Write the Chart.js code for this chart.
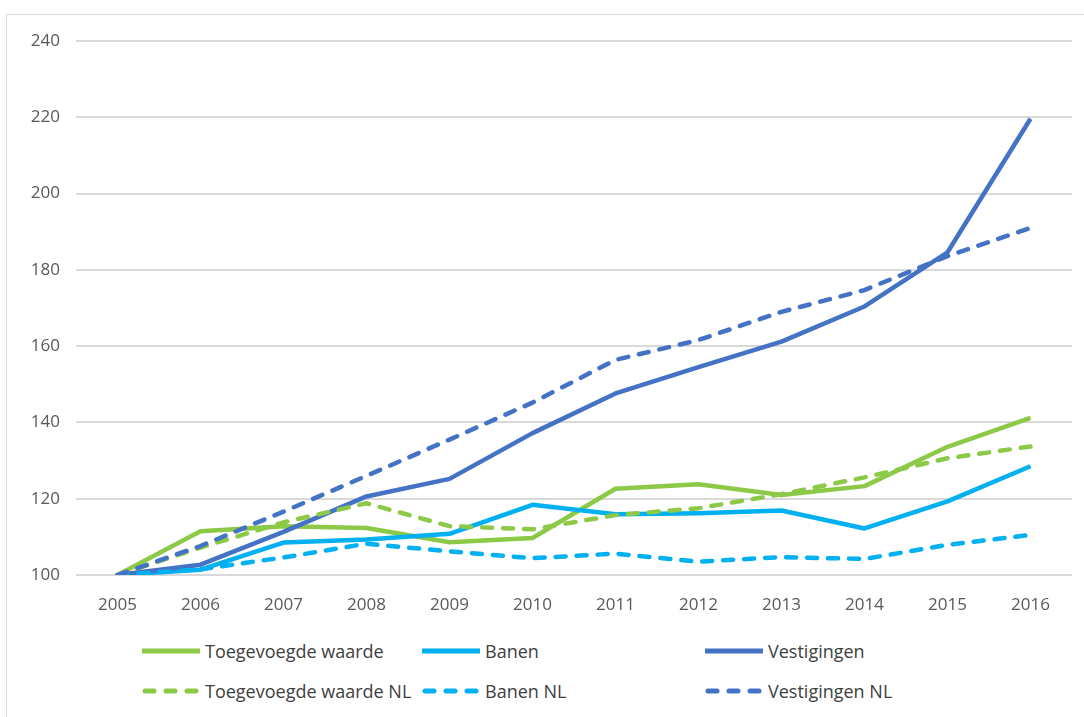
<!DOCTYPE html>
<html>
<head>
<meta charset="utf-8">
<script src="https://cdn.jsdelivr.net/npm/chart.js@4.4.1/dist/chart.umd.min.js"></script>
<style>
  body { margin: 0; background: #ffffff; font-family: "Open Sans", sans-serif; }
  #frame {
    position: absolute; left: 6px; top: 14px; width: 1100px; height: 720px;
    border: 1px solid #d9d9d9; box-sizing: border-box;
  }
  #chartBox { position: absolute; left: 0; top: 0; width: 1084px; height: 625px; }
  #legend {
    position: absolute; left: 142px; top: 636px;
    display: grid; grid-template-columns: 280px 283px 300px; row-gap: 10px;
  }
  .item { display: flex; align-items: center; height: 30px; font-size: 18px; color: #404040; }
  .item svg { margin-right: 5px; }
</style>
</head>
<body>
<div id="frame"></div>
<div id="chartBox"><canvas id="lineChart"></canvas></div>
<div id="legend"></div>
<script>
// ------ //
//  DATA  //
// ------ //

var years = ["2005", "2006", "2007", "2008", "2009", "2010", "2011", "2012", "2013", "2014", "2015", "2016"];

var toegevoegdeWaarde   = [100, 111.5, 112.8, 112.3, 108.6, 109.7, 122.6, 123.8, 121.0, 123.3, 133.6, 141.2];
var banen               = [100, 101.4, 108.5, 109.3, 110.8, 118.4, 115.9, 116.2, 116.9, 112.2, 119.3, 128.5];
var vestigingen         = [100, 102.7, 111.3, 120.6, 125.2, 137.2, 147.6, 154.5, 161.2, 170.4, 184.6, 219.6];
var toegevoegdeWaardeNL = [100, 107.2, 113.8, 118.8, 112.8, 112.0, 115.7, 117.5, 121.2, 125.6, 130.6, 133.7];
var banenNL             = [100, 101.5, 104.6, 108.2, 106.2, 104.4, 105.6, 103.5, 104.7, 104.2, 107.9, 110.5];
var vestigingenNL       = [100, 107.6, 116.6, 126.0, 135.5, 145.2, 156.4, 161.6, 169.0, 174.7, 183.6, 191.0];

var seriesNames = ["Toegevoegde waarde", "Banen", "Vestigingen",
                   "Toegevoegde waarde NL", "Banen NL", "Vestigingen NL"];

// Colours used by the three indicators
var green = "#8cc947";
var cyan = "#00b0f0";
var blue = "#4472c4";

var dashPattern = [10, 11];

// Builds one line dataset, dashed for the NL comparison series
function makeSeries(name, values, color, dashed, index)
{
  return {
    label: name,
    data: values,
    borderColor: color,
    backgroundColor: color,
    borderWidth: 4.5,
    borderDash: dashed ? dashPattern : [],
    borderCapStyle: dashed ? "round" : "butt",
    borderJoinStyle: "round",
    pointRadius: 0,
    pointHoverRadius: 0,
    tension: 0,
    fill: false,
    // later series on top, like the original
    order: 10 - index
  };
}

var datasets = [
  makeSeries(seriesNames[0], toegevoegdeWaarde, green, false, 0),
  makeSeries(seriesNames[1], banen, cyan, false, 1),
  makeSeries(seriesNames[2], vestigingen, blue, false, 2),
  makeSeries(seriesNames[3], toegevoegdeWaardeNL, green, true, 3),
  makeSeries(seriesNames[4], banenNL, cyan, true, 4),
  makeSeries(seriesNames[5], vestigingenNL, blue, true, 5)
];

var tickFont = { family: "'Open Sans', sans-serif", size: 17 };

const ctx = document.getElementById("lineChart");
const chart = new Chart(ctx, {
  type: "line",
  data: { labels: years, datasets: datasets },
  options: {
    responsive: true,
    maintainAspectRatio: false,
    animation: false,
    layout: { padding: { left: 0, right: 12, top: 41, bottom: 0 } },
    plugins: {
      legend: { display: false },
      tooltip: { enabled: false }
    },
    scales: {
      x: {
        offset: true,
        grid: { display: false, drawTicks: false },
        border: { display: false },
        ticks: { color: "#595959", font: tickFont, padding: 20, maxRotation: 0 },
        afterFit: function (scale) { scale.height = 50; }
      },
      y: {
        min: 100,
        max: 240,
        grid: { color: "#d9d9d9", lineWidth: 2, drawTicks: false },
        border: { display: false },
        ticks: { stepSize: 20, color: "#595959", font: tickFont, padding: 16 },
        afterFit: function (scale) { scale.width = 76; }
      }
    }
  }
});

// HTML legend laid out in three columns, built from the chart's datasets
var legendBox = document.getElementById("legend");
chart.data.datasets.forEach(function (ds) {
  var item = document.createElement("div");
  item.className = "item";
  var dashed = ds.borderDash.length > 0;
  var svg = '<svg width="58" height="10">' +
    '<line x1="' + (dashed ? 3 : 0) + '" y1="5" x2="' + (dashed ? 55 : 58) + '" y2="5" stroke="' + ds.borderColor +
    '" stroke-width="5"' + (dashed ? ' stroke-dasharray="9 12" stroke-linecap="round"' : '') + '/></svg>';
  item.innerHTML = svg + '<span>' + ds.label + '</span>';
  legendBox.appendChild(item);
});
</script>
</body>
</html>
